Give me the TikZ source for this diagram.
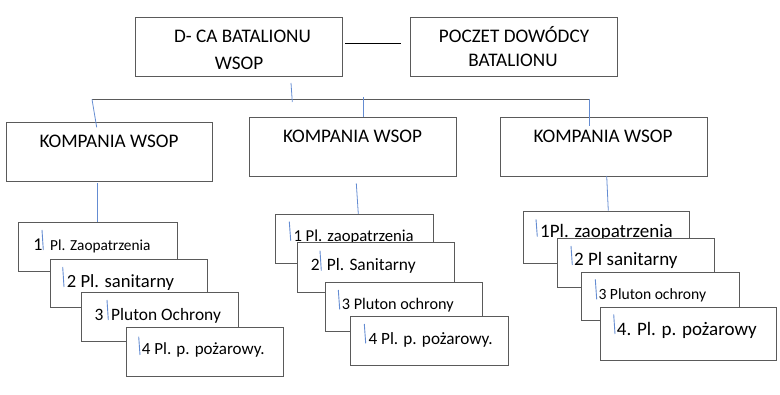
\documentclass[tikz,border=0pt]{standalone}
\usepackage{fontspec}
\setmainfont{Carlito}
\definecolor{boxline}{RGB}{90,90,90}
\definecolor{bluel}{RGB}{100,140,210}
\tikzset{
  x=1pt,y=-1pt,
  box/.style={draw=boxline,line width=0.9pt,fill=white,anchor=north west,inner sep=0pt},
  txt/.style={anchor=base west,inner sep=0pt,text=black},
  ctxt/.style={anchor=base,inner sep=0pt,text=black,font=\fontsize{19.2}{21}\selectfont},
  bl/.style={draw=bluel,line width=0.8pt},
  gl/.style={draw=boxline,line width=0.9pt},
  cursortick/.style={draw=bluel,line width=0.9pt},
}
\newcommand{\bx}[5]{\node[box,minimum width=#4-#2,minimum height=#5-#3] (#1) at (#2,#3) {};}
\newcommand{\fs}[1]{\fontsize{#1}{#1}\selectfont}
\begin{document}
\begin{tikzpicture}
\useasboundingbox (0,0) rectangle (780,395);
% top boxes
\bx{dca}{135}{17}{342}{76}
\node[ctxt] (dcat1) at (242.5,42.7) {D- CA BATALIONU};
\node[ctxt] (dcat2) at (239,69.3) {WSOP};
\bx{pocz}{410}{17}{617}{76}
\node[ctxt] (poczt1) at (514,42.7) {POCZET DOWÓDCY};
\node[ctxt] (poczt2) at (513,66.7) {BATALIONU};
\coordinate (l1) at (345,43);
\coordinate (l2) at (401,43);
\draw[black,line width=0.8pt] (l1) -- (l2);
% bus
\coordinate (busL) at (92,99.3);
\coordinate (busR) at (589,99.3);
\draw[gl] (busL) -- (busR);
\coordinate (dcad1) at (291,83);
\coordinate (dcad2) at (292.3,102);
\draw[bl] (dcad1) -- (dcad2);
% companies
\bx{k1}{6}{122.3}{212.3}{181}
\node[ctxt] (k1t) at (109,147.3) {KOMPANIA WSOP};
\bx{k2}{249.3}{117.3}{455.7}{176}
\node[ctxt] (k2t) at (352.5,142.3) {KOMPANIA WSOP};
\bx{k3}{500}{117.3}{706.7}{176}
\node[ctxt] (k3t) at (603,142.3) {KOMPANIA WSOP};
\coordinate (b1) at (96.7,127.3);
\draw[bl] (busL) -- (b1);
\coordinate (b2a) at (363.3,97);
\draw[bl] (b2a) -- (k2.north -| b2a);
\coordinate (b3) at (589,125.7);
\draw[bl] (busR) -- (b3);
% left group
\coordinate (s1a) at (97.7,183.3);
\coordinate (s1b) at (97.7,225);
\draw[bl] (s1a) -- (s1b);
\bx{a1}{18.3}{222.3}{176.7}{271}
\node[txt,font=\fs{18}] (a1n) at (33.3,250.7) {1};
\node[txt,font=\fs{15.3}] (a1t) at (50,250.7) {Pl. Zaopatrzenia};
\draw[cursortick] (42,230) -- (43.3,250);
\bx{a2}{50}{259}{207.3}{307.3}
\node[txt,font=\fs{18.6}] (a2t) at (66.7,287.3) {2 Pl. sanitarny};
\draw[cursortick] (62.7,267) -- (64,287);
\bx{a3}{80.7}{292.3}{238.3}{341}
\node[txt,font=\fs{17.4}] (a3n) at (94.3,320.7) {3};
\node[txt,font=\fs{17.4}] (a3t) at (111,320.7) {Pluton Ochrony};
\draw[cursortick] (107,300) -- (108.3,320);
\bx{a4}{125.7}{327.3}{282.7}{375.7}
\node[txt,font=\fs{17}] (a4t) at (141.7,355) {4 Pl. p. pożarowy.};
\draw[cursortick] (138.7,336.7) -- (140,355);
% middle group
\coordinate (s2a) at (356.3,183.3);
\coordinate (s2b) at (358.3,214);
\draw[bl] (s2a) -- (s2b);
\bx{m1}{275.3}{214}{433.3}{262.7}
\node[txt,font=\fs{16.7}] (m1t) at (293.3,241.7) {1 Pl. zaopatrzenia};
\draw[cursortick] (289.3,221.7) -- (290.7,240.7);
\bx{m2}{297}{242.3}{454.3}{292}
\node[txt,font=\fs{17.4}] (m2n) at (310.7,270.7) {2};
\node[txt,font=\fs{17.4}] (m2t) at (326.7,270.7) {Pl. Sanitarny};
\draw[cursortick] (320,250.7) -- (321.3,270.7);
\bx{m3}{324.7}{282.3}{482}{331}
\node[txt,font=\fs{16.2}] (m3t) at (341.7,310) {3 Pluton ochrony};
\draw[cursortick] (338.3,290) -- (339.7,309.3);
\bx{m4}{350.3}{316}{507.7}{365}
\node[txt,font=\fs{17.2}] (m4t) at (368.3,345) {4 Pl. p. pożarowy.};
\draw[cursortick] (364.3,324) -- (365.7,343.3);
% right group
\coordinate (s3a) at (606.7,176);
\coordinate (s3b) at (608.3,210.7);
\draw[bl] (s3a) -- (s3b);
\bx{r1}{523.3}{211}{689.3}{262.7}
\node[txt,font=\fs{19}] (r1t) at (540,237.3) {1Pl. zaopatrzenia};
\draw[cursortick] (536,219.3) -- (537.3,236.7);
\bx{r2}{557}{238}{714}{286.7}
\node[txt,font=\fs{19}] (r2t) at (574,265.7) {2 Pl sanitarny};
\draw[cursortick] (571,246) -- (572.3,265);
\bx{r3}{581.3}{271.7}{739.3}{320.3}
\node[txt,font=\fs{15.6}] (r3t) at (598.3,300) {3 Pluton ochrony};
\draw[cursortick] (595.3,279.3) -- (596.7,299.3);
\bx{r4}{599.7}{307}{775.7}{360}
\node[txt,font=\fs{19}] (r4t) at (616.7,335.7) {4. Pl. p. pożarowy};
\draw[cursortick] (613.7,314.3) -- (615,334);
\end{tikzpicture}
\end{document}
